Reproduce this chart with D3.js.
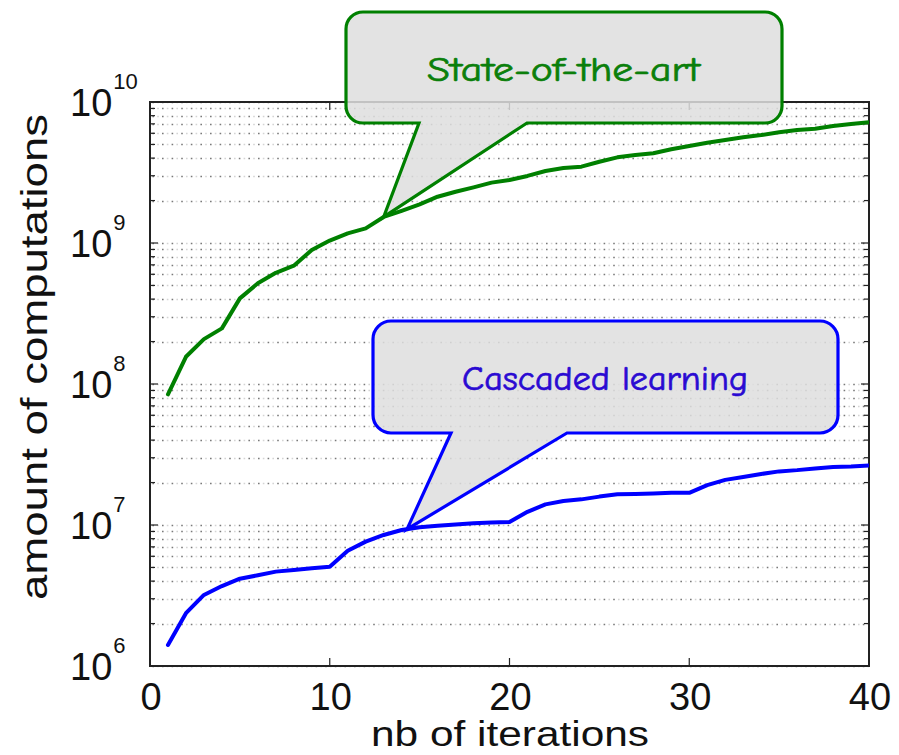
<!DOCTYPE html>
<html>
<head>
<meta charset="utf-8">
<script src="https://cdn.jsdelivr.net/npm/d3@7"></script>
<style>
  html, body { margin: 0; padding: 0; background: #fff; }
  svg { display: block; }
</style>
</head>
<body>
<svg id="chart" width="899" height="755"></svg>
<script>
// Iteration index shared by both series
const iterations = d3.range(1, 41);

// Amount of computations per iteration, state-of-the-art method
const stateOfTheArt = [
  8.45e7, 1.56e8, 2.08e8, 2.48e8, 4.05e8, 5.18e8, 6.15e8, 6.90e8, 8.92e8, 1.04e9,
  1.17e9, 1.27e9, 1.53e9, 1.69e9, 1.88e9, 2.13e9, 2.31e9, 2.48e9, 2.68e9, 2.80e9,
  2.99e9, 3.24e9, 3.40e9, 3.48e9, 3.77e9, 4.05e9, 4.21e9, 4.33e9, 4.62e9, 4.88e9,
  5.14e9, 5.37e9, 5.62e9, 5.83e9, 6.10e9, 6.33e9, 6.47e9, 6.76e9, 6.98e9, 7.18e9
];

// Amount of computations per iteration, cascaded learning
const cascaded = [
  1.41e6, 2.37e6, 3.19e6, 3.69e6, 4.16e6, 4.40e6, 4.67e6, 4.80e6, 4.93e6, 5.06e6,
  6.57e6, 7.62e6, 8.50e6, 9.22e6, 9.63e6, 9.89e6, 1.01e7, 1.03e7, 1.04e7, 1.05e7,
  1.24e7, 1.40e7, 1.48e7, 1.52e7, 1.59e7, 1.65e7, 1.66e7, 1.67e7, 1.69e7, 1.69e7,
  1.92e7, 2.09e7, 2.19e7, 2.30e7, 2.40e7, 2.45e7, 2.52e7, 2.58e7, 2.60e7, 2.64e7
];

const xTicks = [0, 10, 20, 30, 40];
const yExponents = [6, 7, 8, 9, 10];
const xLabel = "nb of iterations";
const yLabel = "amount of computations";

const svg = d3.select("#chart");
const plotLeft = 150, plotRight = 869, plotTop = 102, plotBottom = 666;

const x = d3.scaleLinear().domain([0, 40]).range([plotLeft, plotRight]);
const y = d3.scaleLog().domain([1e6, 1e10]).range([plotBottom, plotTop]);

// Major and minor decade values for the log axis
const majorVals = yExponents.map(e => Math.pow(10, e));
const minorVals = [];
yExponents.slice(0, -1).forEach(e => {
  for (let k = 2; k <= 9; k++) minorVals.push(k * Math.pow(10, e));
});
const allVals = majorVals.concat(minorVals);

// Dotted horizontal grid (dark and light dot rows interleaved)
const grid = svg.append("g");
allVals.forEach(v => {
  const yy = Math.round(y(v)) + 0.5;
  grid.append("line")
    .attr("x1", plotLeft).attr("x2", plotRight).attr("y1", yy).attr("y2", yy)
    .attr("stroke", "#d4d4d4").attr("stroke-width", 1.6)
    .attr("stroke-dasharray", "1.6 8.0").attr("stroke-dashoffset", -7.2);
  grid.append("line")
    .attr("x1", plotLeft).attr("x2", plotRight).attr("y1", yy).attr("y2", yy)
    .attr("stroke", "#7a7a7a").attr("stroke-width", 1.6)
    .attr("stroke-dasharray", "1.6 8.0").attr("stroke-dashoffset", -2.4);
});

// Axis box
const axisG = svg.append("g").attr("stroke", "#222").attr("fill", "none");
axisG.append("rect")
  .attr("x", plotLeft).attr("y", plotTop)
  .attr("width", plotRight - plotLeft).attr("height", plotBottom - plotTop)
  .attr("stroke-width", 2);

// Y ticks on left and right (inward)
allVals.forEach(v => {
  const len = majorVals.includes(v) ? 8 : 5;
  const yy = y(v);
  axisG.append("line").attr("x1", plotLeft).attr("x2", plotLeft + len)
    .attr("y1", yy).attr("y2", yy).attr("stroke-width", 1.2);
  axisG.append("line").attr("x1", plotRight).attr("x2", plotRight - len)
    .attr("y1", yy).attr("y2", yy).attr("stroke-width", 1.2);
});

// X ticks on bottom and top (inward)
xTicks.forEach(t => {
  const xx = x(t);
  axisG.append("line").attr("x1", xx).attr("x2", xx)
    .attr("y1", plotBottom).attr("y2", plotBottom - 8).attr("stroke-width", 1.2);
  axisG.append("line").attr("x1", xx).attr("x2", xx)
    .attr("y1", plotTop).attr("y2", plotTop + 8).attr("stroke-width", 1.2);
});

const axisFont = "'Liberation Sans', Arial, Helvetica, sans-serif";

// X tick labels
svg.append("g").selectAll("text").data(xTicks).join("text")
  .attr("x", d => x(d) + 1).attr("y", 710)
  .attr("text-anchor", "middle")
  .attr("font-family", axisFont).attr("font-size", 38)
  .attr("fill", "#111")
  .text(d => d);

// Y tick labels as powers of ten
const yLab = svg.append("g").attr("font-family", axisFont).attr("fill", "#111");
yExponents.forEach(e => {
  const yy = y(Math.pow(10, e));
  const t = yLab.append("text").attr("x", 70).attr("y", yy + 14).attr("font-size", 38);
  t.append("tspan").text("10");
  t.append("tspan").attr("dy", -27).attr("dx", 1).attr("font-size", 22).text(e);
});

// Axis titles
svg.append("text")
  .attr("x", 510).attr("y", 746)
  .attr("text-anchor", "middle")
  .attr("font-family", axisFont).attr("font-size", 35)
  .attr("textLength", 278).attr("lengthAdjust", "spacingAndGlyphs")
  .attr("fill", "#111")
  .text(xLabel);

svg.append("text")
  .attr("transform", "translate(47,357) rotate(-90)")
  .attr("text-anchor", "middle")
  .attr("font-family", axisFont).attr("font-size", 36)
  .attr("textLength", 486).attr("lengthAdjust", "spacingAndGlyphs")
  .attr("fill", "#111")
  .text(yLabel);

// Series lines
const line = d3.line().x((d, i) => x(iterations[i])).y(d => y(d));
svg.append("defs").append("clipPath").attr("id", "plotArea")
  .append("rect").attr("x", plotLeft).attr("y", plotTop - 3)
  .attr("width", plotRight - plotLeft).attr("height", plotBottom - plotTop + 6);

svg.append("path").datum(stateOfTheArt)
  .attr("d", line)
  .attr("fill", "none").attr("stroke", "#008000").attr("stroke-width", 4)
  .attr("stroke-linejoin", "round").attr("stroke-linecap", "round")
  .attr("clip-path", "url(#plotArea)");

svg.append("path").datum(cascaded)
  .attr("d", line)
  .attr("fill", "none").attr("stroke", "#0000ff").attr("stroke-width", 4)
  .attr("stroke-linejoin", "round").attr("stroke-linecap", "round")
  .attr("clip-path", "url(#plotArea)");

// Speech-bubble callouts pointing at a curve
function valueAt(series, it) {
  const i0 = Math.floor(it) - 1, f = it - Math.floor(it);
  if (f === 0) return series[i0];
  const a = Math.log10(series[i0]), b = Math.log10(series[i0 + 1]);
  return Math.pow(10, a + (b - a) * f);
}

function callout(opts) {
  const { x0, y0, x1, y1, r, tailL, tailR, at, series, color, textColor, label, tx, ty, size, tlen } = opts;
  const px = x(at), py = y(valueAt(series, at));
  const p = d3.path();
  p.moveTo(x0 + r, y0);
  p.lineTo(x1 - r, y0);
  p.arcTo(x1, y0, x1, y0 + r, r);
  p.lineTo(x1, y1 - r);
  p.arcTo(x1, y1, x1 - r, y1, r);
  p.lineTo(tailR, y1);
  p.lineTo(px, py);
  p.lineTo(tailL, y1);
  p.lineTo(x0 + r, y1);
  p.arcTo(x0, y1, x0, y1 - r, r);
  p.lineTo(x0, y0 + r);
  p.arcTo(x0, y0, x0 + r, y0, r);
  p.closePath();
  const g = svg.append("g");
  g.append("path").attr("d", p.toString())
    .attr("fill", "#dedede").attr("fill-opacity", 0.85)
    .attr("stroke", color).attr("stroke-width", 3.2)
    .attr("stroke-linejoin", "miter");
  g.append("text")
    .attr("x", tx).attr("y", ty)
    .attr("font-family", "'Comic Sans MS', 'Comic Neue', 'Noto Sans', sans-serif")
    .attr("font-size", size)
    .attr("textLength", tlen).attr("lengthAdjust", "spacingAndGlyphs")
    .attr("fill", textColor)
    .attr("stroke", textColor).attr("stroke-width", 0.7)
    .text(label);
}

callout({
  x0: 346, y0: 12, x1: 782, y1: 123, r: 17, tailL: 419, tailR: 527,
  at: 13, series: stateOfTheArt, color: "#008000", textColor: "#0b7f0b",
  label: "State-of-the-art", tx: 427, ty: 81, size: 34, tlen: 273
});

callout({
  x0: 373, y0: 321, x1: 838, y1: 433, r: 18, tailL: 451, tailR: 567,
  at: 14.3, series: cascaded, color: "#0000ff", textColor: "#2a0ad2",
  label: "Cascaded learning", tx: 462, ty: 390, size: 34, tlen: 286
});
</script>
</body>
</html>
